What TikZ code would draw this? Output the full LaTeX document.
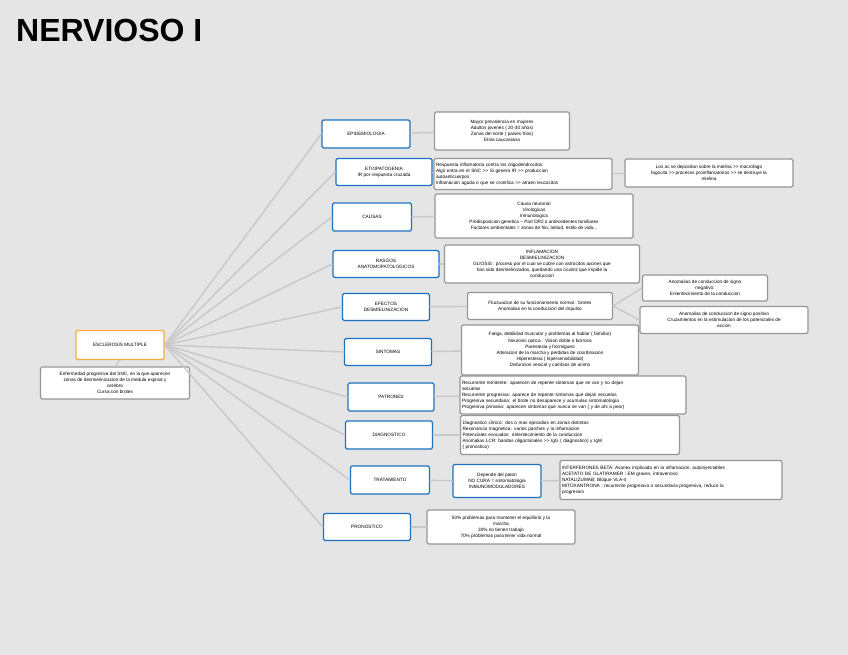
\documentclass[tikz,border=0pt]{standalone}
\usepackage{fontspec}
\setmainfont{Liberation Sans}
\usetikzlibrary{positioning}
\definecolor{pagegray}{RGB}{229,229,229}
\definecolor{linkgray}{RGB}{200,200,200}
\definecolor{notegray}{RGB}{150,150,150}
\definecolor{topicblue}{RGB}{28,114,192}
\definecolor{coreorange}{RGB}{245,172,62}

\begin{document}
\begin{tikzpicture}[x=1pt,y=-1pt,line cap=round,line join=round,
		base/.style={fill=white,rounded corners=1.5pt,inner sep=2pt,
			font=\fontsize{4.7}{6.1}\selectfont,align=center},
		topic/.style={base,draw=topicblue,line width=1.3pt},
		note/.style={base,draw=notegray,line width=1.2pt},
		core/.style={base,draw=coreorange,line width=1.3pt},
		link/.style={draw=linkgray,line width=1.4pt}]
		\fill[pagegray] (0,0) rectangle (848,655);
		\useasboundingbox (0,0) rectangle (848,655);
		\node[anchor=base west,inner sep=0,font=\fontsize{32}{32}\selectfont\bfseries] (title) at (16,42) {NERVIOSO I};
		% centro
		\node[core,minimum width=88,minimum height=29] (em) at (120,345) {ESCLEROSIS MULTIPLE};
		\node[note,minimum width=149,minimum height=32] (emdef) at (115,383) {Enfermedad progresiva del SNC, en la que aparecen\\zonas de desmielinizacion de la medula espinal y\\cerebro\\Cursa con brotes};
		% ramas
		\node[topic,minimum width=88,minimum height=28] (epi) at (366,134) {EPIDEMIOLOGIA};
		\node[topic,minimum width=96,minimum height=27] (etio) at (384,172) {ETIOPATOGENIA\\IR por respuesta cruzada};
		\node[topic,minimum width=79,minimum height=28] (causas) at (372,217) {CAUSAS};
		\node[topic,minimum width=106,minimum height=27] (rasgos) at (386,264) {RASGOS\\ANATOMOPATOLOGICOS};
		\node[topic,minimum width=87,minimum height=27] (efectos) at (386,307) {EFECTOS\\DESMIELINIZACION};
		\node[topic,minimum width=87,minimum height=27] (sint) at (388,352) {SINTOMAS};
		\node[topic,minimum width=86,minimum height=28] (patr) at (391,397) {PATRONES};
		\node[topic,minimum width=87,minimum height=28] (diag) at (389,435) {DIAGNOSTICO};
		\node[topic,minimum width=79,minimum height=28] (trat) at (390,480) {TRATAMIENTO};
		\node[topic,minimum width=87,minimum height=27] (pron) at (367,527) {PRONOSTICO};
		% notas
		\node[note,minimum width=135,minimum height=38] (epinote) at (502,131) {Mayor prevalencia en mujeres\\Adultos jovenes ( 20-30 años)\\Zonas del norte ( paises frios)\\Etnia caucasiana};
		\node[note,text width=174,align=left,minimum height=31] (etionote) at (523,174) {Respuesta inflamatoria contra los oligodendrocitos:\\Algo entra en el SNC >{}> Si genera IR >{}> produccion\\autoanticuerpos\\Inflamacion aguda o que se cronifica >{}> atraen leucocitos};
		\node[note,minimum width=168,minimum height=28] (etiomas) at (709,173) {Los ac se depositan sobre la mielina >{}> macrofago\\fagocita >{}> procesos proinflamatorios >{}> se destruye la\\mielina};
		\node[note,minimum width=198,minimum height=44] (causasnote) at (534,216) {Causa neuronal\\Virologicas\\Inmunologica\\Predisposicion genetica -- Part DR2 o antecedentes familiares\\Factores ambientales = zonas de frio, latitud, estilo de vida...};
		\node[note,minimum width=195,minimum height=38] (rasgosnote) at (542,264) {INFLAMACION\\DESMIELINIZACION\\GLIOSIS : proceso por el cual se cubre con astrocitos axones que\\han sido desmielinizados, quedando una cicatriz que impide la\\conduccion};
		\node[note,minimum width=145,minimum height=27] (efectosnote) at (540,306) {Fluctuacion de su funcionamiento normal : brotes\\Anomalias en la conduccion del impulso};
		\node[note,minimum width=125,minimum height=26] (negativo) at (705,288) {Anomalias de conduccion de signo\\negativo:\\Enlentecimiento de la conduccion};
		\node[note,minimum width=168,minimum height=27] (positivo) at (724,320) {Anomalias de conduccion de signo positivo\\Cruzamientos en la estimulacion de los potenciales de\\accion};
		\node[note,minimum width=177,minimum height=50] (sintnote) at (550,350) {Fatiga, debilidad muscular y problemas al hablar ( farfullar)\\Neurosis optica : Vision doble o borrosa\\Parestesia y hormigueo\\Alteracion de la marcha y perdidas de coordinacion\\Hiperestesia ( hipersensibilidad)\\Disfuncion vesical y cambios de animo};
		\node[note,text width=222,align=left,minimum height=38] (patrnote) at (573,395) {Recurrente remitente: aparecen de repente sintomas que se van y no dejan\\secuelas\\Recurrente progresiva: aparece de repente sintomas que dejan secuelas\\Progresiva secundaria: el brote no desaparece y acumulas sintomatologia\\Progresiva primaria: aparecen sintomas que nunca se van ( y de ahi a peor)};
		\node[note,text width=215,align=left,minimum height=39] (diagnote) at (570,435) {Diagnostico clinico: dos o mas episodios en zonas distintas\\Resonancia magnetica: varios parches y la inflamacion\\Potenciales evocados: enlentecimiento de la conduccion\\Anomalias LCR: bandas oligoclonales >{}> IgG ( diagnostico) y IgM\\( pronostico)};
		\node[topic,minimum width=88,minimum height=33] (tratbase) at (497,481) {Depende del paton\\NO CURA = sintomatologia\\INMUNOMODULADORES};
		\node[note,text width=218,align=left,minimum height=39] (tratnote) at (671,480) {INTERFERONES BETA: Avonex implicado en la inflamacion, autoinyectables\\ACETATO DE GLATIRAMER : EM graves, intravenoso\\NATALIZUMAB: Bloque VLA-4\\MITOXANTRONA : recurrente progresiva o secundaria progresiva, reduce la\\progresion};
		\node[note,minimum width=148,minimum height=34] (pronnote) at (501,527) {50\% problemas para mantener el equilibrio y la\\marcha\\30\% no tienen trabajo\\70\% problemas para tener vida normal};
		% conectores
		\foreach \t in {epi,etio,causas,rasgos,efectos,sint,patr,diag,trat,pron}
			\draw[link] (em.east) -- (\t.west);
		\draw[link] (em.south) -- (emdef.north);
		\draw[link] (epi) -- (epinote);
		\draw[link] (etio) -- (etionote);
		\draw[link] (etionote) -- (etiomas);
		\draw[link] (causas) -- (causasnote);
		\draw[link] (rasgos) -- (rasgosnote);
		\draw[link] (efectos) -- (efectosnote);
		\draw[link] (efectosnote.east) -- (negativo.west);
		\draw[link] (efectosnote.east) -- (positivo.west);
		\draw[link] (sint) -- (sintnote);
		\draw[link] (patr) -- (patrnote);
		\draw[link] (diag) -- (diagnote);
		\draw[link] (trat) -- (tratbase);
		\draw[link] (tratbase) -- (tratnote);
		\draw[link] (pron) -- (pronnote);
\end{tikzpicture}
\end{document}
